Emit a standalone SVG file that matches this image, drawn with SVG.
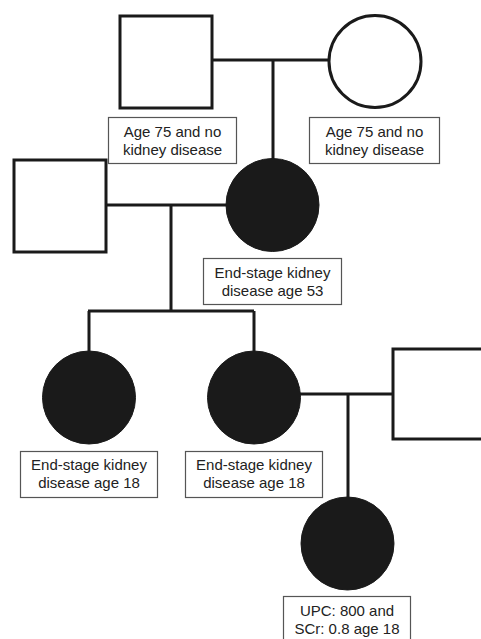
<svg xmlns="http://www.w3.org/2000/svg" width="481" height="639" viewBox="0 0 481 639">
<style>
.m{fill:#fff;stroke:#1a1a1a;stroke-width:3}
.a{fill:#1a1a1a;stroke:#1a1a1a;stroke-width:1}
.u{fill:#fff;stroke:#1a1a1a;stroke-width:3}
.c{fill:none;stroke:#1a1a1a;stroke-width:3}
.lb{fill:#fff;stroke:#555;stroke-width:1.2}
.t{font-family:"Liberation Sans",Arial,sans-serif;font-size:15px;fill:#222;text-anchor:middle}
</style>
<rect width="481" height="639" fill="#fff"/>
<g id="connectors">
<path class="c" d="M212 60H329M273 60V159"/>
<path class="c" d="M107 205H227M171 205V311M88 311H254M89 311V351M254 311V351"/>
<path class="c" d="M300 394H393M348 394V498"/>
</g>
<g id="gf">
<rect class="m" x="120" y="16" width="92" height="92"/>
<rect class="lb" x="108.5" y="117.5" width="128" height="46"/>
<text class="t" x="172.5" y="137">Age 75 and no</text>
<text class="t" x="172.5" y="155">kidney disease</text>
</g>
<g id="gm">
<circle class="u" cx="375" cy="61.5" r="46"/>
<rect class="lb" x="309.5" y="117.5" width="130" height="46"/>
<text class="t" x="374.5" y="137">Age 75 and no</text>
<text class="t" x="374.5" y="155">kidney disease</text>
</g>
<g id="father">
<rect class="m" x="14" y="160" width="92" height="92"/>
</g>
<g id="mother">
<circle class="a" cx="272.5" cy="205" r="46.5"/>
<rect class="lb" x="203.5" y="258.5" width="138" height="46"/>
<text class="t" x="272.5" y="278">End-stage kidney</text>
<text class="t" x="272.5" y="296">disease age 53</text>
</g>
<g id="d1">
<circle class="a" cx="89" cy="397.5" r="46.5"/>
<rect class="lb" x="20.5" y="451.5" width="137" height="46"/>
<text class="t" x="89" y="470">End-stage kidney</text>
<text class="t" x="89" y="488">disease age 18</text>
</g>
<g id="d2">
<circle class="a" cx="254" cy="397.5" r="46.5"/>
<rect class="lb" x="185.5" y="451.5" width="137" height="46"/>
<text class="t" x="254" y="470">End-stage kidney</text>
<text class="t" x="254" y="488">disease age 18</text>
</g>
<g id="husband">
<rect class="m" x="393" y="349" width="92" height="90"/>
</g>
<g id="child">
<circle class="a" cx="347.5" cy="543.5" r="46.5"/>
<rect class="lb" x="283.5" y="596.5" width="127" height="46"/>
<text class="t" x="347" y="616">UPC: 800 and</text>
<text class="t" x="347" y="634">SCr: 0.8 age 18</text>
</g>
</svg>
